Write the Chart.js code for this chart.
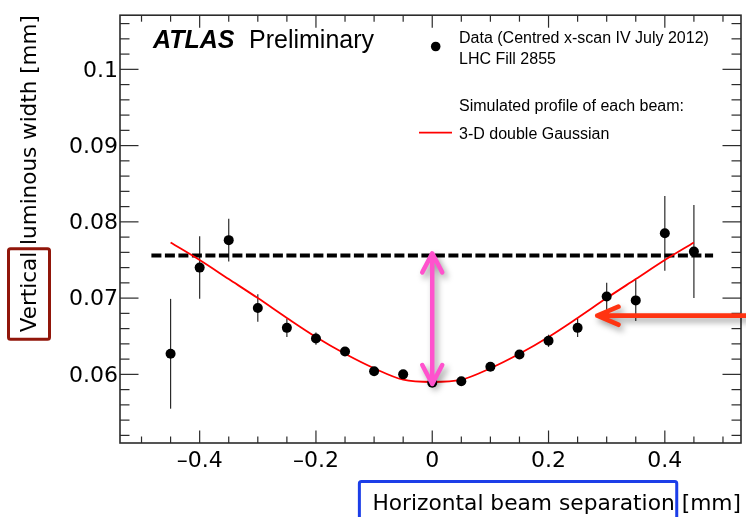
<!DOCTYPE html>
<html>
<head>
<meta charset="utf-8">
<script src="https://cdn.jsdelivr.net/npm/chart.js@4/dist/chart.umd.min.js"></script>
<style>
  html, body { margin: 0; padding: 0; background: #ffffff; }
  #wrap { width: 746px; height: 517px; }
</style>
</head>
<body>
<div id="wrap"><canvas id="scan" width="746" height="517"></canvas></div>
<script>
// Horizontal beam separation of each scan step [mm]
const separation = [-0.45, -0.40, -0.35, -0.30, -0.25, -0.20, -0.15, -0.10, -0.05, 0.00,
                    0.05, 0.10, 0.15, 0.20, 0.25, 0.30, 0.35, 0.40, 0.45];
// Measured vertical luminous width [mm] and its uncertainty
const luminousWidth = [0.0627, 0.0740, 0.0776, 0.0687, 0.0661, 0.0647, 0.0630, 0.0604, 0.0600, 0.0589,
                       0.0591, 0.0610, 0.0626, 0.0644, 0.0661, 0.0702, 0.0697, 0.0785, 0.0761];
const widthError = [0.0072, 0.0041, 0.0028, 0.0018, 0.0012, 0.0008, 0.0004, 0.0003, 0.0003, 0.0003,
                    0.0003, 0.0003, 0.0003, 0.0008, 0.0012, 0.0018, 0.0027, 0.0049, 0.0061];
// Simulated width for the 3-D double Gaussian beam profile
const modelWidth = [0.0773, 0.0750, 0.0725, 0.0700, 0.0674, 0.0649, 0.0627, 0.0608, 0.0593, 0.0590,
                    0.0593, 0.0608, 0.0627, 0.0649, 0.0674, 0.0700, 0.0725, 0.0750, 0.0773];
// Unseparated reference level and its horizontal extent
const referenceLevel = 0.0756;
const referenceSpan = [-0.483, 0.483];
// Labelled tick values
const xTickLabels = ['–0.4', '–0.2', '0', '0.2', '0.4'];
const yTickLabels = ['0.06', '0.07', '0.08', '0.09', '0.1'];

const TICK_FONT = { family: 'DejaVu Sans', size: 22 };
const X_TITLE_FONT = { family: 'DejaVu Sans', size: 21.75 };
const Y_TITLE_FONT = { family: 'DejaVu Sans', size: 21.5 };
const LEGEND_FONT = '16px "Liberation Sans", Arial, sans-serif';

function labelFor(list, v) {
  for (const s of list) {
    if (Math.abs(Number(s.replace('–', '-')) - v) < 1e-7) return s;
  }
  return '';
}
const isMajorX = v => labelFor(xTickLabels, v) !== '';
const isMajorY = v => labelFor(yTickLabels, v) !== '';

function seg(ctx, x1, y1, x2, y2) {
  ctx.beginPath(); ctx.moveTo(x1, y1); ctx.lineTo(x2, y2); ctx.stroke();
}

// Vertical error bars drawn under the markers
const errorBars = {
  id: 'errorBars',
  beforeDatasetsDraw(chart) {
    const { ctx, scales: { x, y } } = chart;
    ctx.save();
    ctx.strokeStyle = '#2a2a2a';
    ctx.lineWidth = 1.2;
    separation.forEach((s, i) => {
      const px = x.getPixelForValue(s);
      seg(ctx, px, y.getPixelForValue(luminousWidth[i] + widthError[i]),
               px, y.getPixelForValue(luminousWidth[i] - widthError[i]));
    });
    ctx.restore();
  }
};

// Frame with inward ticks on all four sides
const frameTicks = {
  id: 'frameTicks',
  afterDatasetsDraw(chart) {
    const { ctx, chartArea: a, scales: { x, y } } = chart;
    ctx.save();
    ctx.strokeStyle = '#2b2b2b';
    ctx.lineWidth = 1.2;
    x.ticks.forEach(t => {
      const px = x.getPixelForValue(t.value);
      const len = isMajorX(t.value) ? 12.5 : 6.5;
      seg(ctx, px, a.bottom, px, a.bottom - len);
      seg(ctx, px, a.top, px, a.top + len);
    });
    y.ticks.forEach(t => {
      const py = y.getPixelForValue(t.value);
      const len = isMajorY(t.value) ? 18.5 : 9.5;
      seg(ctx, a.left, py, a.left + len, py);
      seg(ctx, a.right, py, a.right - len, py);
    });
    ctx.lineWidth = 1.6;
    ctx.strokeRect(a.left, a.top, a.right - a.left, a.bottom - a.top);
    ctx.restore();
  }
};

// Text block, legend and highlight arrows / boxes
const overlay = {
  id: 'overlay',
  afterDraw(chart) {
    const { ctx, chartArea: a, scales: { x, y } } = chart;
    ctx.save();

    // Experiment label
    ctx.fillStyle = '#000';
    ctx.textBaseline = 'alphabetic';
    ctx.font = 'italic bold 25px "Liberation Sans", Arial, sans-serif';
    ctx.fillText('ATLAS', 153, 48);
    ctx.font = '25px "Liberation Sans", Arial, sans-serif';
    ctx.fillText('Preliminary', 249, 48);

    // Legend
    ctx.font = LEGEND_FONT;
    ctx.fillText('Data (Centred x-scan IV July 2012)', 459, 42.5);
    ctx.fillText('LHC Fill 2855', 459, 63.5);
    ctx.fillText('Simulated profile of each beam:', 459, 111);
    ctx.fillText('3-D double Gaussian', 459, 138.5);
    ctx.beginPath();
    ctx.arc(435.7, 46.5, 4.8, 0, Math.PI * 2);
    ctx.fill();
    ctx.strokeStyle = '#ff0000';
    ctx.lineWidth = 1.8;
    seg(ctx, 419, 132.7, 452, 132.7);

    // Box round the first word of each axis title
    ctx.font = `${Y_TITLE_FONT.size}px "${Y_TITLE_FONT.family}"`;
    const yTitle = chart.options.scales.y.title;
    const yFull = ctx.measureText(yTitle.text).width;
    const yWord = ctx.measureText('Vertical').width;
    const yStart = a.top + yFull;
    ctx.lineWidth = 3;
    ctx.strokeStyle = 'rgb(145, 22, 10)';
    ctx.beginPath();
    ctx.roundRect(8.5, yStart - yWord - 3, 41, yWord + 10, 2);
    ctx.stroke();

    ctx.font = `${X_TITLE_FONT.size}px "${X_TITLE_FONT.family}"`;
    const xTitle = chart.options.scales.x.title;
    const xFull = ctx.measureText(xTitle.text).width;
    const xWord = ctx.measureText('Horizontal beam separation').width;
    const xStart = a.right - xFull;
    ctx.strokeStyle = 'rgb(28, 62, 232)';
    ctx.beginPath();
    ctx.roundRect(xStart - 13, 481.5, xWord + 15, 60, 2);
    ctx.stroke();

    // Arrows with soft drop shadow
    ctx.shadowColor = 'rgba(0, 0, 0, 0.38)';
    ctx.shadowBlur = 6;
    ctx.shadowOffsetX = 3;
    ctx.shadowOffsetY = 4;
    ctx.lineCap = 'round';
    ctx.lineJoin = 'round';

    // Double arrow between the reference level and the minimum width
    const ax = x.getPixelForValue(0);
    const top = y.getPixelForValue(referenceLevel) - 2;
    const bot = y.getPixelForValue(modelWidth[9]) + 2;
    ctx.strokeStyle = 'rgb(255, 82, 205)';
    ctx.lineWidth = 4.5;
    ctx.beginPath();
    ctx.moveTo(ax, top); ctx.lineTo(ax, bot);
    ctx.moveTo(ax - 10, top + 19); ctx.lineTo(ax, top); ctx.lineTo(ax + 10, top + 19);
    ctx.moveTo(ax - 10, bot - 19); ctx.lineTo(ax, bot); ctx.lineTo(ax + 10, bot - 19);
    ctx.stroke();

    // Arrow pointing at the simulated curve
    const tx = x.getPixelForValue(0.284);
    const ty = y.getPixelForValue(0.0677);
    ctx.strokeStyle = 'rgb(255, 52, 18)';
    ctx.lineWidth = 4.8;
    ctx.beginPath();
    ctx.moveTo(chart.width + 5, ty); ctx.lineTo(tx, ty);
    ctx.moveTo(tx + 21, ty - 9); ctx.lineTo(tx, ty); ctx.lineTo(tx + 21, ty + 9);
    ctx.stroke();

    ctx.restore();
  }
};

new Chart(document.getElementById('scan'), {
  type: 'scatter',
  data: {
    datasets: [
      {
        label: 'Data',
        data: separation.map((s, i) => ({ x: s, y: luminousWidth[i] })),
        pointRadius: 5,
        pointHoverRadius: 5,
        pointBackgroundColor: '#000',
        pointBorderWidth: 0,
        showLine: false
      },
      {
        type: 'line',
        label: '3-D double Gaussian',
        data: separation.map((s, i) => ({ x: s, y: modelWidth[i] })),
        borderColor: '#ff0000',
        borderWidth: 1.8,
        pointRadius: 0,
        cubicInterpolationMode: 'monotone',
        fill: false
      },
      {
        type: 'line',
        label: 'Reference',
        data: referenceSpan.map(s => ({ x: s, y: referenceLevel })),
        borderColor: '#000',
        borderWidth: 4,
        borderDash: [10, 3.5],
        borderCapStyle: 'butt',
        pointRadius: 0,
        fill: false
      }
    ]
  },
  options: {
    responsive: false,
    animation: false,
    devicePixelRatio: 1,
    layout: { padding: { top: 10, right: 4, left: 0, bottom: 0 } },
    plugins: { legend: { display: false }, tooltip: { enabled: false } },
    scales: {
      x: {
        type: 'linear',
        min: -0.537,
        max: 0.531,
        afterFit(scale) { scale.height = 74; },
        grid: { display: false, drawTicks: false },
        border: { display: false },
        ticks: {
          stepSize: 0.05,
          includeBounds: false,
          autoSkip: false,
          maxRotation: 0,
          padding: 5,
          color: '#000',
          font: TICK_FONT,
          callback: v => labelFor(xTickLabels, v)
        },
        title: {
          display: true,
          text: 'Horizontal beam separation [mm]',
          align: 'end',
          color: '#000',
          font: X_TITLE_FONT,
          padding: { top: 0, bottom: 0 }
        }
      },
      y: {
        type: 'linear',
        min: 0.0510,
        max: 0.1071,
        afterFit(scale) { scale.width = 120; },
        grid: { display: false, drawTicks: false },
        border: { display: false },
        ticks: {
          stepSize: 0.002,
          includeBounds: false,
          autoSkip: false,
          padding: 2,
          labelOffset: 1.5,
          color: '#000',
          font: TICK_FONT,
          callback: v => labelFor(yTickLabels, v)
        },
        title: {
          display: true,
          text: 'Vertical luminous width [mm]',
          align: 'end',
          color: '#000',
          font: Y_TITLE_FONT,
          padding: { top: 17.5, bottom: 0 }
        }
      }
    }
  },
  plugins: [errorBars, frameTicks, overlay]
});
</script>
</body>
</html>
